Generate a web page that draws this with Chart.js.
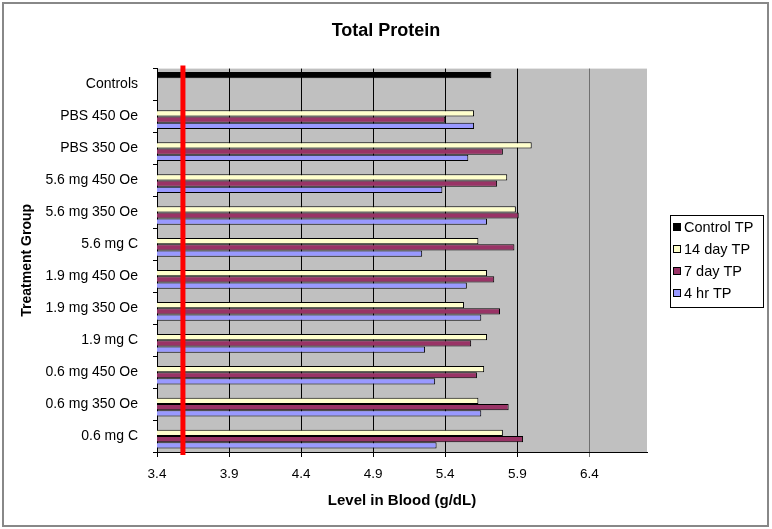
<!DOCTYPE html>
<html>
<head>
<meta charset="utf-8">
<script src="https://cdn.jsdelivr.net/npm/chart.js@4"></script>
<style>
  html, body { margin: 0; padding: 0; background: #fff; }
  #wrap { width: 772px; height: 529px; }
</style>
</head>
<body>
<div id="wrap"><canvas id="tpChart" width="772" height="529"></canvas></div>
<script>
// treatment groups, top to bottom
const categories = ['Controls', 'PBS 450 Oe', 'PBS 350 Oe', '5.6 mg 450 Oe', '5.6 mg 350 Oe', '5.6 mg C',
    '1.9 mg 450 Oe', '1.9 mg 350 Oe', '1.9 mg C', '0.6 mg 450 Oe', '0.6 mg 350 Oe', '0.6 mg C'];

// total protein values (g/dL)
const controlTP = [5.72, null, null, null, null, null, null, null, null, null, null, null];
const day14TP = [null, 5.60, 6.00, 5.83, 5.89, 5.63, 5.69, 5.53, 5.69, 5.67, 5.63, 5.80];
const day7TP  = [null, 5.40, 5.80, 5.76, 5.91, 5.88, 5.74, 5.78, 5.58, 5.62, 5.84, 5.94];
const hr4TP   = [null, 5.60, 5.56, 5.38, 5.69, 5.24, 5.55, 5.65, 5.26, 5.33, 5.65, 5.34];

const xTicks = [3.4, 3.9, 4.4, 4.9, 5.4, 5.9, 6.4];
const xMin = 3.4, xMax = 6.8;
const refLine = 3.58;  // red reference line

const FONT = 'Arial, "Liberation Sans", sans-serif';

// grey plot background + outer frame
const backdrop = {
    id: 'backdrop',
    beforeDraw(chart) {
        const ctx = chart.ctx, a = chart.chartArea;
        ctx.save();
        ctx.fillStyle = '#fff';
        ctx.fillRect(0, 0, chart.width, chart.height);
        ctx.fillStyle = '#c0c0c0';
        ctx.fillRect(a.left, a.top, a.right - a.left, a.bottom - a.top);
        ctx.strokeStyle = '#888';
        ctx.lineWidth = 2;
        ctx.strokeRect(3, 3, 765, 523);
        ctx.restore();
    }
};

// red vertical line + boxed legend
const extras = {
    id: 'extras',
    afterDatasetsDraw(chart) {
        const ctx = chart.ctx, a = chart.chartArea;
        const x = chart.scales.x.getPixelForValue(refLine);
        ctx.save();
        ctx.strokeStyle = '#ff0000';
        ctx.lineWidth = 5;
        ctx.beginPath();
        ctx.moveTo(x, a.top - 3);
        ctx.lineTo(x, a.bottom + 3);
        ctx.stroke();
        ctx.restore();
    },
    afterDraw(chart) {
        const ctx = chart.ctx;
        ctx.save();
        ctx.fillStyle = '#fff';
        ctx.fillRect(670, 215, 93, 92);
        ctx.strokeStyle = '#000';
        ctx.lineWidth = 1;
        ctx.strokeRect(670.5, 215.5, 93, 92);
        ctx.font = '14.5px ' + FONT;
        ctx.textBaseline = 'middle';
        chart.data.datasets.forEach((ds, i) => {
            const y = 227 + i * 22;
            ctx.fillStyle = ds.backgroundColor;
            ctx.fillRect(673.5, y - 3.5, 7, 7);
            ctx.strokeRect(673.5, y - 3.5, 7, 7);
            ctx.fillStyle = '#000';
            ctx.fillText(ds.label, 684, y + 0.5);
        });
        ctx.restore();
    }
};

const ctx = document.getElementById('tpChart').getContext('2d');
new Chart(ctx, {
    type: 'bar',
    data: {
        labels: categories,
        datasets: [
            { label: 'Control TP', data: controlTP, backgroundColor: '#000000' },
            { label: '14 day TP', data: day14TP, backgroundColor: '#ffffcc' },
            { label: '7 day TP', data: day7TP, backgroundColor: '#993366' },
            { label: '4 hr TP', data: hr4TP, backgroundColor: '#9999ff' }
        ]
    },
    options: {
        indexAxis: 'y',
        responsive: false,
        animation: false,
        datasets: {
            bar: {
                borderColor: '#000',
                borderWidth: 1,
                borderSkipped: false,
                categoryPercentage: 0.78,
                barPercentage: 1.0
            }
        },
        layout: { padding: 0 },
        plugins: {
            legend: { display: false },
            tooltip: { enabled: false },
            title: {
                display: true,
                text: 'Total Protein',
                color: '#000',
                font: { family: FONT, size: 18, weight: 'bold' },
                padding: { top: 20, bottom: 27 }
            }
        },
        scales: {
            x: {
                type: 'linear',
                min: xMin,
                max: xMax,
                afterBuildTicks: (scale) => { scale.ticks = xTicks.map(v => ({ value: v })); },
                afterFit: (scale) => { scale.height = 77; },
                grid: {
                    color: (c) => (c.tick && c.tick.value === 6.4) ? '#707070' : '#000',
                    lineWidth: 1,
                    tickLength: 5
                },
                border: { color: '#000', width: 1 },
                ticks: {
                    color: '#000',
                    padding: 9,
                    font: { family: FONT, size: 13.5 },
                    callback: (v) => Number(v).toFixed(1)
                },
                title: {
                    display: true,
                    text: 'Level in Blood (g/dL)',
                    color: '#000',
                    font: { family: FONT, size: 15, weight: 'bold' },
                    padding: { top: 0, bottom: 19 }
                }
            },
            y: {
                afterFit: (scale) => { scale.width = 157; },
                grid: {
                    drawOnChartArea: false,
                    color: '#000',
                    tickLength: 4
                },
                border: { color: '#000', width: 1 },
                ticks: {
                    color: '#000',
                    padding: 15,
                    autoSkip: false,
                    font: { family: FONT, size: 14 }
                },
                title: {
                    display: true,
                    text: 'Treatment Group',
                    color: '#000',
                    font: { family: FONT, size: 14, weight: 'bold' },
                    padding: { top: 19, bottom: 0 }
                }
            },
            // empty right-hand axis that reserves the space where the legend sits
            yRight: {
                type: 'category',
                position: 'right',
                afterFit: (scale) => { scale.width = 125; },
                grid: { display: false },
                border: { display: false },
                ticks: { display: false }
            }
        }
    },
    plugins: [backdrop, extras]
});
</script>
</body>
</html>
